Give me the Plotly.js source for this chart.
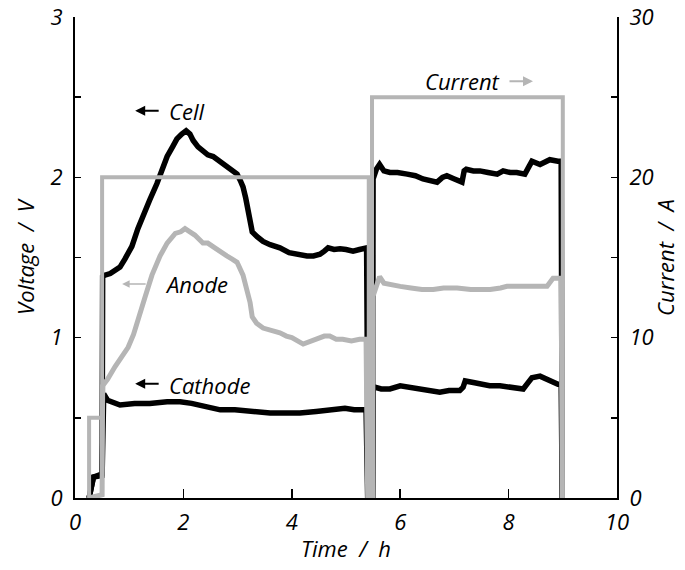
<!DOCTYPE html>
<html>
<head>
<meta charset="utf-8">
<script src="https://cdn.plot.ly/plotly-3.0.1.min.js"></script>
<style>html,body{margin:0;padding:0;background:#fff;}#chart{width:685px;height:570px;}</style>
</head>
<body>
<div id="chart"></div>
<script>
// ---- data (time in h, voltage in V, current in A) ----
var cellT = [0.26,0.30,0.34,0.42,0.50,0.51,0.55,0.65,0.74,0.83,
             0.92,1.05,1.16,1.25,1.38,1.51,1.60,1.70,1.80,1.88,
             1.97,2.05,2.12,2.18,2.27,2.36,2.45,2.55,2.63,2.72,
             2.80,2.90,2.99,3.05,3.10,3.15,3.19,3.23,3.27,3.36,
             3.47,3.60,3.78,3.95,4.10,4.28,4.40,4.52,4.60,4.67,
             4.78,4.89,5.00,5.13,5.25,5.38,5.41,5.49,5.50,5.56,
             5.62,5.70,5.81,5.95,6.13,6.28,6.42,6.55,6.68,6.78,
             6.86,7.00,7.14,7.18,7.22,7.35,7.47,7.62,7.79,7.90,
             8.03,8.15,8.30,8.38,8.43,8.58,8.68,8.76,8.91,8.97,
             8.99];
var cellV = [0.00,0.08,0.13,0.14,0.15,1.38,1.39,1.40,1.42,1.44,
             1.49,1.57,1.68,1.76,1.86,1.96,2.05,2.13,2.19,2.24,
             2.27,2.29,2.27,2.23,2.19,2.16,2.14,2.13,2.11,2.09,
             2.07,2.05,2.02,1.98,1.94,1.87,1.80,1.72,1.66,1.63,
             1.60,1.58,1.56,1.53,1.52,1.51,1.51,1.52,1.54,1.56,
             1.55,1.555,1.55,1.54,1.55,1.56,0.00,0.00,1.99,2.05,
             2.08,2.04,2.03,2.03,2.02,2.01,1.99,1.98,1.97,2.00,
             2.01,1.99,1.97,2.04,2.05,2.04,2.04,2.03,2.02,2.04,
             2.03,2.03,2.02,2.07,2.10,2.08,2.10,2.11,2.10,2.10,
             0.00];

var cathodeT = [0.26,0.30,0.34,0.50,0.51,0.53,0.60,0.83,1.10,1.38,
                1.70,1.94,2.15,2.31,2.50,2.68,2.95,3.23,3.60,3.90,
                4.15,4.45,4.70,4.98,5.15,5.37,5.40,5.49,5.50,5.54,
                5.65,5.81,6.00,6.20,6.42,6.58,6.73,6.90,7.10,7.16,
                7.20,7.35,7.47,7.65,7.84,8.05,8.27,8.36,8.43,8.58,
                8.75,8.91,8.97,8.99];
var cathodeV = [0.00,0.08,0.13,0.14,0.48,0.65,0.61,0.58,0.59,0.59,
                0.60,0.60,0.59,0.58,0.56,0.55,0.55,0.54,0.53,0.53,
                0.53,0.54,0.55,0.56,0.55,0.55,0.00,0.00,0.68,0.69,
                0.68,0.68,0.70,0.69,0.68,0.67,0.66,0.67,0.67,0.69,
                0.73,0.72,0.71,0.70,0.70,0.69,0.68,0.72,0.75,0.76,
                0.73,0.71,0.71,0.00];

var anodeT = [0.26,0.50,0.51,0.60,0.74,0.86,0.98,1.08,1.16,1.29,
              1.42,1.57,1.70,1.85,1.95,2.03,2.12,2.21,2.36,2.45,
              2.58,2.70,2.80,2.90,2.99,3.10,3.17,3.23,3.27,3.35,
              3.47,3.60,3.78,3.90,4.00,4.21,4.35,4.46,4.60,4.70,
              4.82,4.94,5.10,5.25,5.37,5.40,5.49,5.50,5.56,5.62,
              5.70,5.81,6.00,6.20,6.40,6.61,6.80,7.05,7.30,7.50,
              7.66,7.85,7.97,8.20,8.40,8.58,8.71,8.82,8.91,8.97,
              8.99];
var anodeV = [0.00,0.02,0.70,0.74,0.82,0.88,0.94,1.02,1.10,1.25,
              1.39,1.51,1.59,1.65,1.66,1.68,1.66,1.64,1.59,1.59,
              1.56,1.53,1.51,1.49,1.47,1.39,1.30,1.22,1.13,1.09,
              1.06,1.05,1.03,1.01,1.00,0.96,0.98,0.99,1.01,1.01,
              0.99,0.99,0.98,0.99,0.99,0.00,0.00,1.26,1.33,1.38,
              1.34,1.33,1.32,1.31,1.30,1.30,1.31,1.31,1.30,1.30,
              1.30,1.31,1.32,1.32,1.32,1.32,1.32,1.37,1.37,1.37,
              0.00];

var currentT = [0.26,0.26,0.50,0.50,5.42,5.42,5.48,5.48,9.00,9.00];
var currentA = [0,5,5,20,20,0,0,25,25,0];

var xTickVals = [0,2,4,6,8,10];
var xTickText = ['0','2','4','6','8','10'];

// ---- styling ----
var FONT = '"Open Sans", "Noto Sans", sans-serif';
var BLACK = '#000000';
var GREY = '#b5b5b5';

var traces = [
  {x: currentT, y: currentA, yaxis: 'y2', mode: 'lines', line: {color: GREY, width: 4}, name: 'Current'},
  {x: cellT, y: cellV, mode: 'lines', line: {color: BLACK, width: 5.5}, name: 'Cell'},
  {x: cathodeT, y: cathodeV, mode: 'lines', line: {color: BLACK, width: 5.5}, name: 'Cathode'},
  {x: anodeT, y: anodeV, mode: 'lines', line: {color: GREY, width: 5}, name: 'Anode'}
];

var tickFont = {family: FONT, size: 22, color: '#000', style: 'italic'};
var titleFont = {family: FONT, size: 22, color: '#000', style: 'italic'};
var annFont = {family: FONT, size: 22, color: '#000', style: 'italic'};

function arrow(x, y, ax, color, w) {
  return {x: x, y: y, xref: 'x', yref: 'y', text: '', showarrow: true,
          ax: ax, ay: 0, arrowhead: 2, arrowsize: 1, arrowwidth: w, arrowcolor: color, standoff: 0};
}
function label(x, y, txt, anchor) {
  return {x: x, y: y, xref: 'x', yref: 'y', text: txt, showarrow: false,
          xanchor: anchor, yanchor: 'middle', font: annFont};
}

var layout = {
  width: 685, height: 570,
  margin: {l: 75, r: 68, t: 17, b: 72},
  paper_bgcolor: '#fff', plot_bgcolor: '#fff',
  showlegend: false,
  xaxis: {
    range: [0, 10], tickvals: xTickVals, ticktext: xTickText,
    ticks: 'inside', ticklen: 9, tickwidth: 1.5, tickcolor: '#000',
    showline: true, linewidth: 2, linecolor: '#000', mirror: false,
    showgrid: false, zeroline: false, tickfont: tickFont, ticklabelstandoff: 4,
    ticklabeloverflow: 'allow',
    title: {text: 'Time  /  h', font: titleFont, standoff: 6}
  },
  yaxis: {
    range: [0, 3], dtick: 1, ticks: 'inside', ticklen: 6, tickwidth: 1.5, tickcolor: '#000',
    minor: {dtick: 0.5, ticks: 'inside', ticklen: 6, tickwidth: 1.5, tickcolor: '#000', showgrid: false},
    showline: true, linewidth: 2, linecolor: '#000',
    showgrid: false, zeroline: false, tickfont: tickFont, ticklabelstandoff: 6,
    ticklabeloverflow: 'allow',
    title: {text: 'Voltage  /  V', font: titleFont, standoff: 10}
  },
  yaxis2: {
    range: [0, 30], dtick: 10, overlaying: 'y', side: 'right', anchor: 'x',
    ticks: 'inside', ticklen: 6, tickwidth: 1.5, tickcolor: '#000',
    minor: {dtick: 5, ticks: 'inside', ticklen: 6, tickwidth: 1.5, tickcolor: '#000', showgrid: false},
    showline: true, linewidth: 2, linecolor: '#000',
    showgrid: false, zeroline: false, tickfont: tickFont, ticklabelstandoff: 6,
    ticklabeloverflow: 'allow',
    title: {text: 'Current  /  A', font: titleFont, standoff: 6}
  },
  annotations: [
    arrow(1.11, 2.415, 25, BLACK, 2), label(1.70, 2.415, 'Cell', 'left'),
    arrow(0.87, 1.334, 25, GREY, 1.5), label(1.62, 1.334, 'Anode', 'left'),
    arrow(1.11, 0.713, 25, BLACK, 2), label(1.70, 0.707, 'Cathode', 'left'),
    arrow(8.45, 2.60, -25, GREY, 2), label(7.88, 2.60, 'Current', 'right')
  ]
};

Plotly.newPlot('chart', traces, layout, {staticPlot: true, displayModeBar: false});
</script>
</body>
</html>
